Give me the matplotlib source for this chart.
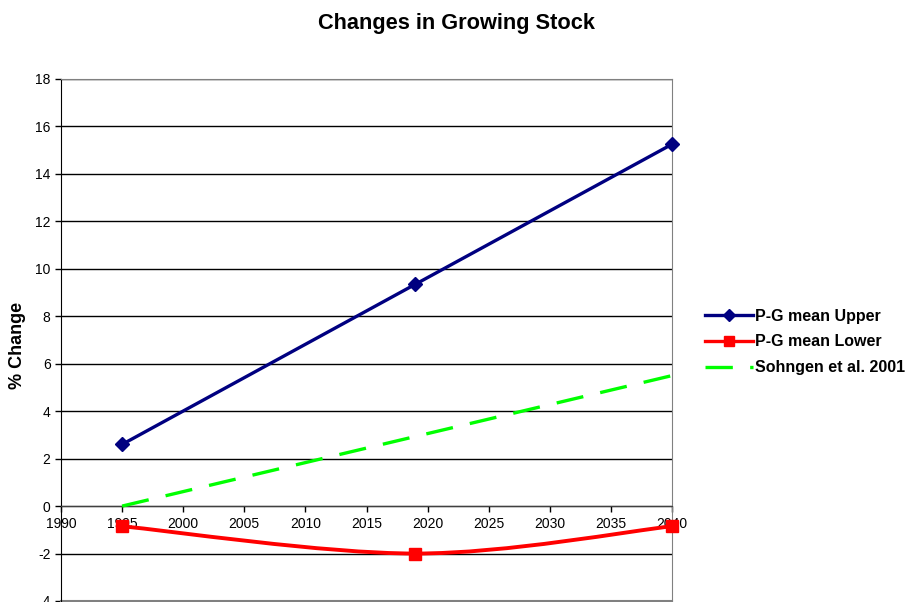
import matplotlib
matplotlib.use("Agg")
import matplotlib.pyplot as plt
from matplotlib.path import Path
from matplotlib.patches import PathPatch
from matplotlib.lines import Line2D

plt.rcParams['font.family'] = ['Liberation Sans', 'DejaVu Sans']
plt.rcParams['axes.unicode_minus'] = False

# Series data
upper_years = [1995, 2019, 2040]
upper_vals = [2.6, 9.35, 15.25]
lower_years = [1995, 2019, 2040]
lower_vals = [-0.85, -2.0, -0.85]
sohngen_years = [1995, 2040]
sohngen_vals = [0.0, 5.5]

x_ticks = list(range(1990, 2041, 5))
y_ticks = list(range(-4, 19, 2))

NAVY = '#000080'
RED = '#FF0000'
GREEN = '#00FF00'

fig = plt.figure(figsize=(9.07, 6.02), dpi=100)
ax = fig.add_axes([61 / 907, 1 - 601 / 602, (672 - 61) / 907, (601 - 79) / 602])

ax.set_xlim(1990, 2040)
ax.set_ylim(-4, 18)
ax.set_xticks(x_ticks)
ax.set_yticks(y_ticks)
ax.tick_params(axis='both', labelsize=10, direction='out', length=4, width=1)
ax.tick_params(axis='x', pad=4)

ax.yaxis.grid(True, color='black', linewidth=1)
ax.set_axisbelow('line')

ax.spines['bottom'].set_position(('data', 0))
ax.spines['bottom'].set_color('#404040')
ax.spines['left'].set_color('black')
for s in ('top', 'right'):
    ax.spines[s].set_color('#808080')
ax.axhline(-4, color='#808080', linewidth=1.5, clip_on=False)

# Upper series
ax.plot(upper_years, upper_vals, color=NAVY, linewidth=2.4, marker='D',
        markersize=7, clip_on=False, zorder=3)

# Lower series: smoothed Bezier through the points
pts = list(zip(lower_years, lower_vals))
verts = [pts[0]]
codes = [Path.MOVETO]
n = len(pts)
for i in range(n - 1):
    p_prev = pts[i - 1] if i > 0 else pts[i]
    p0 = pts[i]
    p1 = pts[i + 1]
    p_next = pts[i + 2] if i + 2 < n else pts[i + 1]
    c1 = (p0[0] + (p1[0] - p_prev[0]) / 6, p0[1] + (p1[1] - p_prev[1]) / 6)
    c2 = (p1[0] - (p_next[0] - p0[0]) / 6, p1[1] - (p_next[1] - p0[1]) / 6)
    verts += [c1, c2, p1]
    codes += [Path.CURVE4] * 3
ax.add_patch(PathPatch(Path(verts, codes), facecolor='none', edgecolor=RED,
                       linewidth=2.8, zorder=3, clip_on=False))
ax.plot(lower_years, lower_vals, linestyle='none', marker='s', color=RED,
        markersize=9, clip_on=False, zorder=3)

# Sohngen et al.
ax.plot(sohngen_years, sohngen_vals, color=GREEN, linewidth=2.4,
        dashes=(8.2, 5.2), zorder=3, clip_on=False)

handles = [
    Line2D([], [], color=NAVY, linewidth=2.4, marker='D', markersize=6),
    Line2D([], [], color=RED, linewidth=2.4, marker='s', markersize=7),
    Line2D([], [], color=GREEN, linewidth=2.4, dashes=(8.2, 5.2)),
]
labels = ['P-G mean Upper', 'P-G mean Lower', 'Sohngen et al. 2001']
fig.legend(handles, labels, loc='center left', bbox_to_anchor=(691 / 907, 1 - 342 / 602),
           frameon=False, prop={'weight': 'bold', 'size': 11.5},
           handlelength=3.0, handletextpad=0.12, labelspacing=0.68)

fig.text(456 / 907, 1 - 24 / 602, 'Changes in Growing Stock', ha='center', va='center',
         fontsize=15.7, fontweight='bold')
fig.text(18 / 907, 1 - 345 / 602, '% Change', ha='center', va='center',
         rotation=90, fontsize=13, fontweight='bold')

fig.savefig('out.png', dpi=100)
